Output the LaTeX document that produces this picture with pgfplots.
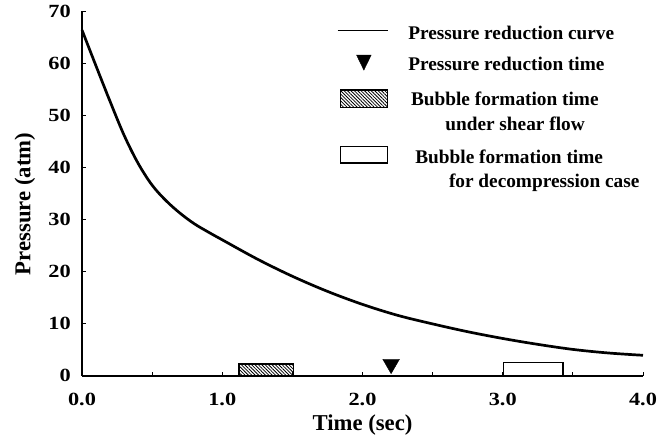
\documentclass[border=0pt]{standalone}
\usepackage{fontspec}
\setmainfont{Liberation Serif}
\newfontfamily\tickfont{Liberation Serif}[FakeStretch=1.2]
\usepackage{pgfplots}
\pgfplotsset{compat=1.18}
\usetikzlibrary{patterns.meta}
\begin{document}
\begin{tikzpicture}
\begin{axis}[
  at={(82pt,63.3pt)}, anchor=south west,
  scale only axis, width=561pt, height=364.4pt,
  xmin=0, xmax=4, ymin=0, ymax=70,
  axis x line*=bottom, axis y line*=left,
  axis line style={line width=1.6pt, -},
  xtick={0,0.5,...,4}, xticklabels={0.0,,1.0,,2.0,,3.0,,4.0},
  ytick={0,10,...,70},
  tick align=inside, major tick length=4pt,
  tick style={line width=0.8pt, black},
  /pgf/number format/assume math mode=true,
  ticklabel style={font=\tickfont\bfseries\fontsize{18.6}{20}\selectfont, inner sep=0pt},
  xticklabel style={anchor=north, yshift=-17.3pt},
  yticklabel style={anchor=east, xshift=-11pt},
  xlabel={Time (sec)}, ylabel={Pressure (atm)},
  label style={font=\bfseries\fontsize{22.7}{24}\selectfont},
  xlabel style={at={(axis description cs:0.5,-0.1353)}, anchor=center},
  ylabel style={at={(axis description cs:-0.1016,0.471)}, anchor=center},
  clip=false,
  legend cell align=left,
  legend style={draw=none, fill=none, inner sep=0pt, outer sep=0pt,
    at={(axis cs:1.819,68.06)}, anchor=north west,
    row sep=0pt, column sep=18pt,
    cells={anchor=base west, inner sep=0pt},
    font=\bfseries\fontsize{19.3}{24}\selectfont},
]
\addplot[black, line width=2.7pt, smooth, tension=0.55,
  legend image code/.code={\path[draw=none, fill=none] (0pt,-13.5pt) (0pt,18pt);
    \draw[black, line width=0.9pt] (0pt,8.8pt) -- (50pt,8.8pt);}]
  coordinates {
  (0,66.4) (0.1,59.5) (0.2,52.7) (0.3,46.2) (0.4,40.8) (0.5,36.6)
  (0.6,33.6) (0.7,31.2) (0.8,29.2) (0.9,27.6) (1.0,26.1) (1.25,22.4)
  (1.5,19.1) (1.75,16.2) (2.0,13.7) (2.25,11.6) (2.5,9.95) (2.75,8.45)
  (3.0,7.15) (3.25,6.02) (3.5,5.05) (3.75,4.37) (4.0,3.92)};
\addlegendentry{Pressure reduction curve}
\addplot[only marks, mark=triangle*, mark size=9.6pt,
  mark options={rotate=180, fill=black, draw=black, line width=0.4pt},
  legend image code/.code={\path[draw=none, fill=none] (0pt,-16.2pt) (0pt,18pt);
    \fill[black] (19pt,15.8pt) -- (33.6pt,15.8pt) -- (26.3pt,0.8pt) -- cycle;}]
  coordinates {(2.204,2.23)};
\addlegendentry{Pressure reduction time}
\addplot[draw=black, line width=1.5pt, pattern={Lines[angle=-45, distance=2.4pt, line width=0.8pt]},
  legend image code/.code={\path[draw=none, fill=none] (0pt,-38.5pt) (0pt,18pt);
    \draw[black, line width=1.5pt, pattern={Lines[angle=-45, distance=2.4pt, line width=0.8pt]}] (3pt,-1.8pt) rectangle (50pt,15.8pt);}]
  coordinates {(1.12,0) (1.12,2.25) (1.507,2.25) (1.507,0)} --cycle;
\addlegendentry{\begin{tabular}[t]{@{}l@{}}\hspace*{2.7pt}Bubble formation time\\[1pt]\hspace*{37pt}under shear flow\end{tabular}}
\addplot[draw=black, fill=white, line width=1.5pt,
  legend image code/.code={\path[draw=none, fill=none] (0pt,-30pt) (0pt,18pt);
    \draw[black, fill=white, line width=1.5pt] (3pt,0.2pt) rectangle (49.7pt,16.8pt);}]
  coordinates {(3.005,0) (3.005,2.55) (3.428,2.55) (3.428,0)} --cycle;
\addlegendentry{\begin{tabular}[t]{@{}l@{}}\hspace*{7pt}Bubble formation time\\[0.3pt]\hspace*{40.7pt}for decompression case\end{tabular}}
\end{axis}
\pgfresetboundingbox
\path[use as bounding box] (0,0) rectangle (671pt,439pt);
\end{tikzpicture}
\end{document}
